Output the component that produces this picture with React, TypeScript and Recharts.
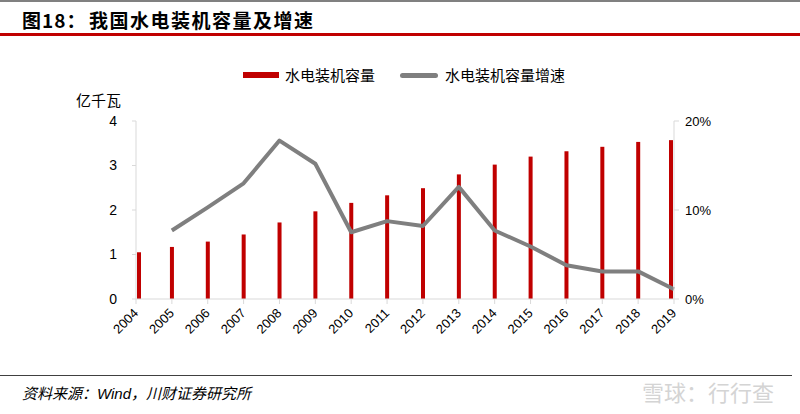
import React from "react";
import { ComposedChart, Bar, Line, XAxis, YAxis } from "recharts";

const years = [2004, 2005, 2006, 2007, 2008, 2009, 2010, 2011, 2012, 2013, 2014, 2015, 2016, 2017, 2018, 2019];
const capacity = [1.05, 1.17, 1.29, 1.45, 1.72, 1.97, 2.16, 2.33, 2.49, 2.8, 3.02, 3.2, 3.32, 3.42, 3.53, 3.57];
const growth: (number | null)[] = [null, 0.077, 0.103, 0.13, 0.178, 0.152, 0.075, 0.0875, 0.082, 0.126, 0.077, 0.059, 0.038, 0.031, 0.031, 0.011];
const leftTicks = [0, 1, 2, 3, 4];
const rightTicks = [0, 0.1, 0.2];

const data = years.map((y, i) => ({ year: y, capacity: capacity[i], growth: growth[i] }));

const axisFont = "'Liberation Sans', Arial, sans-serif";
const cjkFont = "'Noto Sans CJK SC', sans-serif";

const MARGIN = { top: 121, right: 86, bottom: 75, left: 96 };
const AXIS_W = 40;
const PLOT_LEFT = MARGIN.left + AXIS_W;
const PLOT_RIGHT = 800 - MARGIN.right - AXIS_W;

const XTick = (props: any) => {
  const { x, y, payload } = props;
  const ax = x + 3;
  const ay = y + 8;
  return (
    <text
      x={ax}
      y={ay}
      transform={`rotate(-45, ${ax}, ${ay})`}
      textAnchor="end"
      fontFamily={axisFont}
      fontSize={13}
      fill="#000"
    >
      {payload.value}
    </text>
  );
};

// keeps the edge bars inside the axis lines, like the reference
const BarShape = (props: any) => {
  const { x, y, width, height, fill } = props;
  if (!height || height <= 0) return null;
  let bx = x;
  if (bx < PLOT_LEFT + 1) bx = PLOT_LEFT + 1;
  if (bx + width > PLOT_RIGHT - 1) bx = PLOT_RIGHT - 1 - width;
  return <rect x={bx} y={y} width={width} height={height} fill={fill} />;
};

export default function App() {
  return (
    <div
      style={{
        position: "absolute",
        left: 0,
        top: 0,
        width: 800,
        height: 414,
        background: "#fff",
        overflow: "hidden",
      }}
    >
      {/* top gray line */}
      <div style={{ position: "absolute", left: 0, top: 0, width: 800, height: 2, background: "#808080" }} />
      {/* title */}
      <div
        style={{
          position: "absolute",
          left: 22,
          top: 7,
          fontFamily: cjkFont,
          fontWeight: 700,
          fontSize: 19,
          lineHeight: "26px",
          color: "#000",
          whiteSpace: "nowrap",
          letterSpacing: 1,
        }}
      >
        图18：
      </div>
      <div
        style={{
          position: "absolute",
          left: 89,
          top: 7,
          fontFamily: cjkFont,
          fontWeight: 700,
          fontSize: 19,
          lineHeight: "26px",
          color: "#000",
          whiteSpace: "nowrap",
          letterSpacing: 1.5,
        }}
      >
        我国水电装机容量及增速
      </div>
      {/* red line */}
      <div style={{ position: "absolute", left: 0, top: 33, width: 800, height: 3, background: "#c00000" }} />

      {/* legend */}
      <div style={{ position: "absolute", left: 243, top: 72, width: 36, height: 6, background: "#c00000" }} />
      <div
        style={{
          position: "absolute",
          left: 285,
          top: 64,
          fontFamily: cjkFont,
          fontSize: 15,
          lineHeight: "22px",
          color: "#000",
          whiteSpace: "nowrap",
        }}
      >
        水电装机容量
      </div>
      <div
        style={{
          position: "absolute",
          left: 400,
          top: 73,
          width: 38,
          height: 5,
          borderRadius: 3,
          background: "#7f7f7f",
        }}
      />
      <div
        style={{
          position: "absolute",
          left: 445,
          top: 64,
          fontFamily: cjkFont,
          fontSize: 15,
          lineHeight: "22px",
          color: "#000",
          whiteSpace: "nowrap",
        }}
      >
        水电装机容量增速
      </div>

      {/* unit label */}
      <div
        style={{
          position: "absolute",
          left: 76,
          top: 89,
          fontFamily: cjkFont,
          fontSize: 15,
          lineHeight: "22px",
          color: "#000",
          whiteSpace: "nowrap",
        }}
      >
        亿千瓦
      </div>

      <div style={{ position: "absolute", left: 0, top: 0 }}>
        <ComposedChart width={800} height={414} data={data} margin={MARGIN}>
          <XAxis
            dataKey="year"
            type="number"
            domain={[2004, 2019]}
            ticks={years}
            interval={0}
            allowDecimals={false}
            height={40}
            stroke="#d9d9d9"
            tickLine={{ stroke: "#d9d9d9" }}
            tickSize={5}
            tick={<XTick />}
          />
          <YAxis
            yAxisId="left"
            domain={[0, 4]}
            ticks={leftTicks}
            width={AXIS_W}
            stroke="#d9d9d9"
            tickLine={{ stroke: "#d9d9d9" }}
            tickSize={4}
            tickMargin={15}
            tick={{ fill: "#000", fontFamily: axisFont, fontSize: 14 }}
          />
          <YAxis
            yAxisId="right"
            orientation="right"
            domain={[0, 0.2]}
            ticks={rightTicks}
            width={AXIS_W}
            stroke="#d9d9d9"
            tickLine={{ stroke: "#d9d9d9" }}
            tickSize={5}
            tickMargin={6}
            tickFormatter={(v: number) => `${Math.round(v * 100)}%`}
            tick={{ fill: "#000", fontFamily: axisFont, fontSize: 13, textAnchor: "start" }}
          />
          <Bar
            yAxisId="left"
            dataKey="capacity"
            fill="#c00000"
            barSize={4}
            shape={<BarShape />}
            isAnimationActive={false}
          />
          <Line
            yAxisId="right"
            dataKey="growth"
            stroke="#7f7f7f"
            strokeWidth={4}
            dot={false}
            activeDot={false}
            strokeLinejoin="round"
            isAnimationActive={false}
          />
        </ComposedChart>
      </div>

      {/* footer line */}
      <div style={{ position: "absolute", left: 0, top: 375, width: 792, height: 1, background: "#404040" }} />
      <div
        style={{
          position: "absolute",
          left: 22,
          top: 382,
          fontFamily: cjkFont,
          fontStyle: "italic",
          fontSize: 15,
          lineHeight: "22px",
          color: "#000",
          whiteSpace: "nowrap",
        }}
      >
        资料来源：<span style={{ fontFamily: axisFont }}>Wind</span>，川财证券研究所
      </div>
      {/* watermark */}
      <div
        style={{
          position: "absolute",
          left: 642,
          top: 376,
          fontFamily: cjkFont,
          fontSize: 22,
          lineHeight: "30px",
          color: "#d4d4d4",
          whiteSpace: "nowrap",
        }}
      >
        雪球：行行查
      </div>
    </div>
  );
}
